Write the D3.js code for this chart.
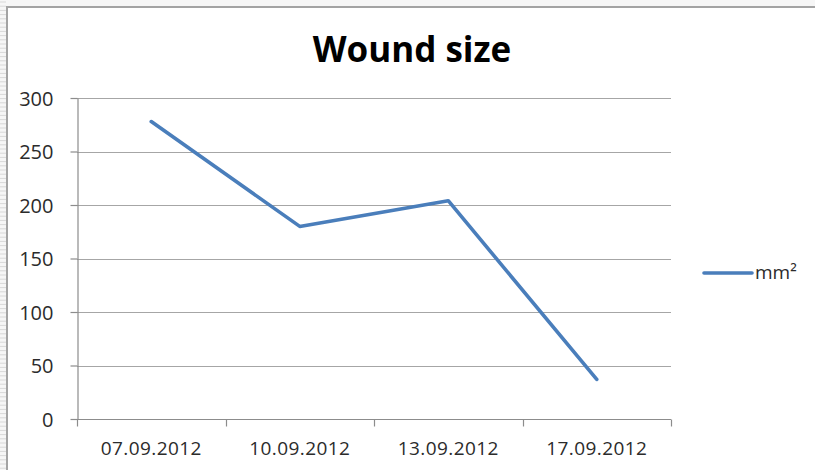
<!DOCTYPE html>
<html>
<head>
<meta charset="utf-8">
<script src="https://cdn.jsdelivr.net/npm/d3@7/dist/d3.min.js"></script>
<style>
  html, body { margin: 0; padding: 0; background: #fff; }
  svg { display: block; }
  text { font-family: "Open Sans", "DejaVu Sans", sans-serif; fill: #2b2b2b; }
</style>
</head>
<body>
<svg id="chart" width="815" height="470"></svg>
<script>
// Wound size measurements by date
const dates = ["07.09.2012", "10.09.2012", "13.09.2012", "17.09.2012"];
const woundSize = [278, 180, 204, 37];
const yTicks = [0, 50, 100, 150, 200, 250, 300];
const seriesName = "mm²";
const chartTitle = "Wound size";

const svg = d3.select("#chart");
const W = 815, H = 470;

// Sheet background behind the chart object
svg.append("rect").attr("x", 0).attr("y", 0).attr("width", W).attr("height", H).attr("fill", "#f6f6f6");
const stripes = svg.append("g");
d3.range(2, H, 4.2).forEach(yy => {
  stripes.append("line").attr("x1", 0).attr("x2", 6).attr("y1", yy).attr("y2", yy)
    .attr("stroke", "#d8d8d8").attr("stroke-width", 1);
});
// Chart object area and border
svg.append("rect").attr("x", 7).attr("y", 7).attr("width", W).attr("height", H)
  .attr("fill", "#fff").attr("stroke", "#a3a3a3").attr("stroke-width", 2);

const plot = { left: 77, right: 671, top: 98, bottom: 419 };

const x = d3.scaleBand().domain(dates).range([plot.left, plot.right]).paddingInner(0).paddingOuter(0);
const y = d3.scaleLinear().domain([0, 300]).range([plot.bottom, plot.top]);

// Horizontal gridlines
svg.append("g")
  .selectAll("line")
  .data(yTicks.filter(d => d > 0))
  .join("line")
  .attr("x1", plot.left).attr("x2", plot.right)
  .attr("y1", d => Math.round(y(d)) + 0.5).attr("y2", d => Math.round(y(d)) + 0.5)
  .attr("stroke", "#a6a6a6").attr("stroke-width", 1.2);

// Y axis
const yAxis = svg.append("g")
  .attr("transform", `translate(${plot.left + 0.5},0)`)
  .call(d3.axisLeft(y).tickValues(yTicks).tickSize(7).tickPadding(17).tickSizeOuter(0));
yAxis.select(".domain").attr("stroke", "#8c8c8c").attr("stroke-width", 1.2);
yAxis.selectAll(".tick line").attr("stroke", "#8c8c8c").attr("stroke-width", 1.2);
yAxis.selectAll(".tick text").attr("font-size", 20).attr("fill", "#2b2b2b")
  .attr("font-family", "'Open Sans', sans-serif").attr("dy", "0.36em");

// X axis with ticks between categories
const xAxis = svg.append("g")
  .attr("transform", `translate(0,${Math.round(plot.bottom) + 0.5})`);
xAxis.append("line").attr("x1", plot.left).attr("x2", plot.right).attr("y1", 0).attr("y2", 0)
  .attr("stroke", "#8c8c8c").attr("stroke-width", 1.2);
const boundaries = dates.map(d => x(d)).concat([x(dates[dates.length - 1]) + x.bandwidth()]);
xAxis.selectAll("line.tk").data(boundaries).join("line").attr("class", "tk")
  .attr("x1", d => Math.round(d) + 0.5).attr("x2", d => Math.round(d) + 0.5)
  .attr("y1", 0).attr("y2", 7)
  .attr("stroke", "#8c8c8c").attr("stroke-width", 1.2);
xAxis.selectAll("text").data(dates).join("text")
  .attr("x", d => x(d) + x.bandwidth() / 2)
  .attr("y", 35)
  .attr("text-anchor", "middle")
  .attr("font-size", 19)
  .attr("letter-spacing", "0.4px")
  .text(d => d);

// Series line
const line = d3.line()
  .x((d, i) => x(dates[i]) + x.bandwidth() / 2)
  .y(d => y(d));
svg.append("path")
  .datum(woundSize)
  .attr("d", line)
  .attr("fill", "none")
  .attr("stroke", "#4a7ebb")
  .attr("stroke-width", 3.6)
  .attr("stroke-linejoin", "round")
  .attr("stroke-linecap", "round");

// Title
svg.append("text")
  .attr("x", 412).attr("y", 62)
  .attr("text-anchor", "middle")
  .attr("font-size", 35)
  .attr("font-weight", "bold")
  .style("fill", "#000")
  .text(chartTitle);

// Legend
const legend = svg.append("g").attr("transform", "translate(704,273)");
legend.append("line").attr("x1", 0).attr("x2", 48).attr("y1", 0).attr("y2", 0)
  .attr("stroke", "#4a7ebb").attr("stroke-width", 3.6).attr("stroke-linecap", "round");
legend.append("text").attr("x", 51).attr("y", 6).attr("font-size", 19).text(seriesName);
</script>
</body>
</html>
